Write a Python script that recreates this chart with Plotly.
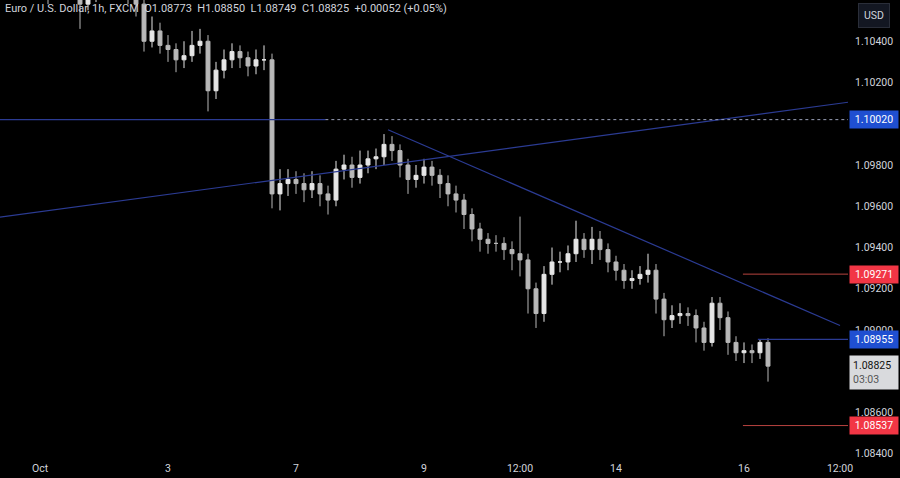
import plotly.graph_objects as go

# hours since Oct 1 00:00 (trading time), 3-hour candles
start_h = -15
step_h = 3
closes = [1.1080,1.1075,1.1072,1.1068,1.1070,1.1066,1.1062,
          1.1068,1.1064,1.1066,1.1058,1.1062,1.1066,1.1068,1.1070,1.1066,1.1062,1.1058,
          1.1040,1.1045,1.1038,1.1036,1.1031,1.1033,1.1038,1.1040,1.1016,1.1026,1.1031,1.1035,1.1032,1.1028,1.1031,1.1031,
          1.0966,1.0971,1.0973,1.0971,1.0968,1.0971,1.0966,1.0963,1.0978,1.0980,1.0974,1.0980,1.0983,1.0984,1.0990,1.0987,
          1.0980,1.0973,1.0975,1.0979,1.0975,1.0971,1.0966,1.0963,1.0956,1.0949,1.0944,
          1.0942,1.0942,1.0939,1.0937,1.0934,1.0920,1.0908,1.0927,1.0933,1.0933,1.0937,1.0944,1.0939,1.0944,1.0939,1.0933,1.0929,1.0924,1.0925,1.0927,1.0929,
          1.0915,1.0905,1.0907,1.0908,1.0907,1.0901,1.0894,1.0913,1.0906,1.0894,1.0889,1.0890,1.0889,1.0894,1.08825]
first_open = 1.1084
highs = [1.1088,1.1083,1.1078,1.1075,1.1074,1.1073,1.1069,1.1071,1.1072,1.1070,1.1069,1.1066,1.1069,1.1072,1.1074,1.1073,1.1069,1.1066,
         1.1061,1.1052,1.1049,1.1043,1.1039,1.1040,1.1045,1.1046,1.1043,1.1030,1.1036,1.1039,1.1038,1.1035,1.1036,1.1038,
         1.1034,1.0978,1.0978,1.0977,1.0976,1.0977,1.0975,1.0970,1.0982,1.0985,1.0984,1.0987,1.0987,1.0988,1.0995,1.0994,
         1.0990,1.0983,1.0980,1.0983,1.0982,1.0978,1.0975,1.0970,1.0966,1.0959,1.0952,1.0947,1.0946,1.0945,1.0943,1.0955,
         1.0937,1.0923,1.0931,1.0940,1.0938,1.0941,1.0953,1.0947,1.0950,1.0948,1.0942,1.0936,1.0932,1.0929,1.0931,1.0937,
         1.0932,1.0918,1.0912,1.0913,1.0911,1.0910,1.0904,1.0916,1.0916,1.0909,1.0897,1.0894,1.0893,1.08955,1.0896]
lows = [1.1076,1.1071,1.1068,1.1064,1.1065,1.1062,1.1058,1.1060,1.1060,1.1061,1.1046,1.1055,1.1059,1.1063,1.1065,1.1062,1.1058,1.1052,
        1.1035,1.1037,1.1034,1.1030,1.1025,1.1027,1.1030,1.1034,1.1006,1.1012,1.1022,1.1027,1.1027,1.1023,1.1024,1.1026,
        1.0959,1.0958,1.0965,1.0966,1.0962,1.0964,1.0960,1.0956,1.0960,1.0973,1.0969,1.0971,1.0976,1.0978,1.0980,1.0982,
        1.0974,1.0966,1.0969,1.0971,1.0970,1.0964,1.0960,1.0957,1.0949,1.0943,1.0938,1.0937,1.0938,1.0934,1.0929,1.0926,
        1.0908,1.0901,1.0904,1.0922,1.0928,1.0929,1.0933,1.0935,1.0932,1.0934,1.0928,1.0924,1.0920,1.0920,1.0922,1.0923,
        1.0908,1.0897,1.0901,1.0903,1.0902,1.0894,1.0890,1.0892,1.0900,1.0888,1.0885,1.0884,1.0884,1.0886,1.0875]

tick_hours = [0, 48, 96, 144, 180, 216, 264, 300]
tick_labels = ["Oct", "3", "7", "9", "12:00", "14", "16", "12:00"]
price_ticks = [1.084, 1.086, 1.090, 1.092, 1.094, 1.096, 1.098, 1.102, 1.104]

# drawn levels / trendlines: (h0, p0, h1, p1)
asc_line = (-15, 1.09547, 304, 1.10106)
desc_line = (130.5, 1.09971, 300, 1.09022)
level_main = 1.10020
level_red_hi = 1.09271
level_blue = 1.08955
level_red_lo = 1.08537
last_price = 1.08825

opens = [first_open] + closes[:-1]
xs = [start_h + step_h * i for i in range(len(closes))]

fig = go.Figure(go.Candlestick(
    x=xs, open=opens, high=highs, low=lows, close=closes,
    increasing=dict(line=dict(color="#e6e6e6", width=1), fillcolor="#e6e6e6"),
    decreasing=dict(line=dict(color="#b8b8b8", width=1), fillcolor="#b8b8b8"),
    whiskerwidth=0, showlegend=False, hoverinfo="skip"))

navy = "#2b3b93"
shapes = [
    dict(type="line", x0=asc_line[0], y0=asc_line[1], x1=asc_line[2], y1=asc_line[3], line=dict(color=navy, width=1.2)),
    dict(type="line", x0=desc_line[0], y0=desc_line[1], x1=desc_line[2], y1=desc_line[3], line=dict(color=navy, width=1.2)),
    dict(type="line", x0=-15, x1=107, y0=level_main, y1=level_main, line=dict(color=navy, width=1.2)),
    dict(type="line", x0=107, x1=303, y0=level_main, y1=level_main, line=dict(color="#9aa0b8", width=1, dash="dot")),
    dict(type="line", x0=263.6, x1=303, y0=level_red_hi, y1=level_red_hi, line=dict(color="#b8433f", width=1)),
    dict(type="line", x0=263.6, x1=303, y0=level_red_lo, y1=level_red_lo, line=dict(color="#b8433f", width=1)),
    dict(type="line", x0=269.2, x1=303, y0=level_blue, y1=level_blue, line=dict(color=navy, width=1.2)),
]

def tag(y, text, bg, fg="white"):
    return dict(x=1.0, xref="paper", xshift=1, y=y, yref="y", xanchor="left", yanchor="middle",
                text=text, showarrow=False, bgcolor=bg, font=dict(color=fg, size=10.5, family="Roboto"),
                borderpad=2, width=44)

annotations = [
    tag(level_main, "1.10020", "#1f4fd1"),
    tag(level_red_hi, "1.09271", "#f23645"),
    tag(level_blue, "1.08955", "#1f4fd1"),
    tag(level_red_lo, "1.08537", "#f23645"),
    dict(x=1.0, xref="paper", xshift=1, y=last_price - 0.0003, yref="y", xanchor="left", yanchor="middle",
         text="1.08825<br><span style='color:#555'>03:03</span>", showarrow=False, bgcolor="#d9dadd",
         font=dict(color="#111", size=10.5, family="Roboto"), borderpad=3, width=42, align="left"),
    dict(x=0.004, xref="paper", y=1.0, yref="paper", xanchor="left", yanchor="top", showarrow=False,
         text="Euro / U.S. Dollar, 1h, FXCM  O1.08773  H1.08850  L1.08749  C1.08825  +0.00052 (+0.05%)",
         font=dict(color="#d1d4dc", size=11, family="Roboto")),
    dict(x=1.0, xref="paper", xshift=10, y=1.0, yref="paper", yshift=-3, xanchor="left", yanchor="top",
         showarrow=False, text="USD", bgcolor="#131722", bordercolor="#2a2e39", borderwidth=1, borderpad=5,
         font=dict(color="#d1d4dc", size=10.5, family="Roboto")),
]

fig.update_layout(
    width=900, height=478, paper_bgcolor="black", plot_bgcolor="black",
    margin=dict(l=0, r=52, t=0, b=18, autoexpand=False),
    shapes=shapes, annotations=annotations,
    xaxis=dict(range=[-15, 303], rangeslider=dict(visible=False), showgrid=False, zeroline=False,
               tickvals=tick_hours, ticktext=tick_labels, ticks="", tickfont=dict(color="#d1d4dc", size=10.5, family="Roboto"),
               showline=False),
    yaxis=dict(range=[1.0837, 1.1060], side="right", showgrid=False, zeroline=False,
               tickvals=price_ticks, ticktext=[f"{v:.5f}" for v in price_ticks], ticks="",
               tickfont=dict(color="#d1d4dc", size=10.5, family="Roboto"), ticklabelstandoff=6),
)

fig.write_html("out.html", config={"displayModeBar": False},
               post_script="document.body.style.margin='0';document.body.style.background='black';document.body.style.overflow='hidden';")
